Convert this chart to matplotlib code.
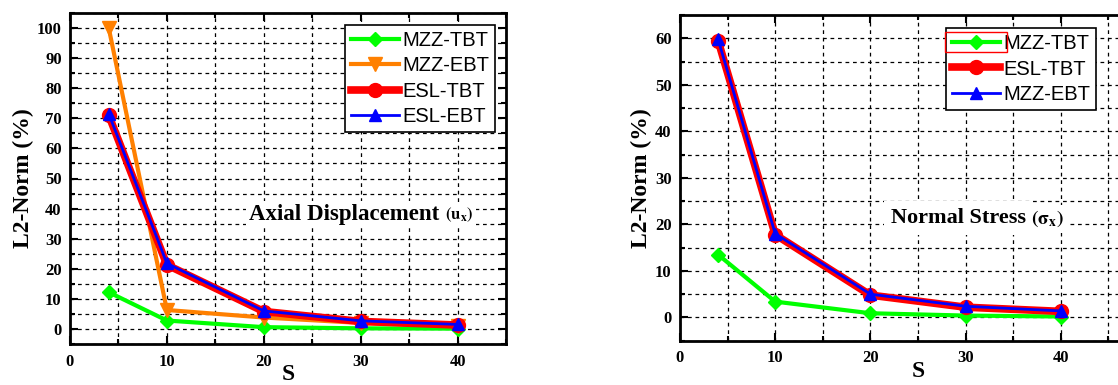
#импорт библиотек
import matplotlib
matplotlib.use("Agg")
import matplotlib.pyplot as plt
from matplotlib.ticker import MultipleLocator
from matplotlib.patches import Rectangle

plt.rcParams["mathtext.fontset"] = "stix"

#данные: отношение длины к толщине S
s_values = [4, 10, 20, 30, 40]
s_ticks = [0, 10, 20, 30, 40]

#левый график - осевое перемещение
ux_mzz_tbt = [12.2, 2.8, 0.6, 0.2, 0.1]
ux_mzz_ebt = [100.0, 6.3, 3.8, 2.0, 1.0]
ux_esl_tbt = [71.0, 21.3, 5.8, 2.5, 1.3]
ux_esl_ebt = [71.5, 21.8, 6.0, 2.7, 1.5]

#правый график - нормальное напряжение
sx_mzz_tbt = [13.5, 3.4, 0.9, 0.4, 0.2]
sx_esl_tbt = [59.5, 17.8, 4.8, 2.2, 1.3]
sx_mzz_ebt = [59.8, 18.0, 5.0, 2.4, 1.4]

left_labels = ["MZZ-TBT", "MZZ-EBT", "ESL-TBT", "ESL-EBT"]
right_labels = ["MZZ-TBT", "ESL-TBT", "MZZ-EBT"]

GREEN = "#00ff00"
ORANGE = "#ff8000"
RED = "#ff0000"
BLUE = "#0000ff"

SERIF = "Liberation Serif"
SANS = "Liberation Sans"


def style_axes(ax, ymin, ymax, xmax):
    #оси, сетка и деления
    ax.set_xlim(0, xmax)
    ax.set_ylim(ymin, ymax)
    ax.set_xticks(s_ticks)
    ax.xaxis.set_minor_locator(MultipleLocator(5))
    ax.yaxis.set_major_locator(MultipleLocator(10))
    ax.yaxis.set_minor_locator(MultipleLocator(5))
    ax.grid(True, which="both", color="black", linestyle=(0, (3, 3)), linewidth=0.9)
    ax.set_axisbelow(True)
    ax.tick_params(which="both", direction="in", top=True, right=True, width=1.5)
    ax.tick_params(which="major", length=6)
    ax.tick_params(which="minor", length=3.5)
    ax.tick_params(axis="x", which="major", pad=7)
    ax.tick_params(axis="y", which="major", pad=6)
    for sp in ax.spines.values():
        sp.set_linewidth(2)
    for lab in ax.get_xticklabels() + ax.get_yticklabels():
        lab.set_fontfamily(SERIF)
        lab.set_fontweight("bold")
        lab.set_fontsize(12)
    ax.set_ylabel("L2-Norm (%)", fontfamily=SERIF, fontweight="bold", fontsize=17, labelpad=2)
    ax.set_xlabel("S", fontfamily=SERIF, fontweight="bold", fontsize=17, labelpad=-4)


def make_legend(ax, anchor):
    leg = ax.legend(loc="upper right", bbox_to_anchor=anchor, fancybox=False,
                    edgecolor="black", framealpha=1, borderpad=0.3,
                    labelspacing=0.32, handlelength=2.4, handletextpad=0.15,
                    borderaxespad=0, prop={"family": SANS, "size": 14.5})
    leg.get_frame().set_linewidth(1.2)
    return leg


fig = plt.figure(figsize=(11.18, 3.85), dpi=100)

#левый график
ax1 = fig.add_axes([70 / 1118, 1 - 344 / 385, 436 / 1118, 331 / 385])
ax1.plot(s_values, ux_mzz_tbt, color=GREEN, lw=3, marker="D", ms=7, label=left_labels[0])
ax1.plot(s_values, ux_mzz_ebt, color=ORANGE, lw=3, marker="v", ms=10, label=left_labels[1])
ax1.plot(s_values, ux_esl_tbt, color=RED, lw=5.5, marker="o", ms=10, label=left_labels[2])
ax1.plot(s_values, ux_esl_ebt, color=BLUE, lw=2, marker="^", ms=9, label=left_labels[3])
style_axes(ax1, -5, 105, 45)
make_legend(ax1, (0.975, 0.964))
t1 = ax1.text(18.5, 38.2, "Axial Displacement", fontfamily=SERIF, fontweight="bold",
              fontsize=16.5, ha="left", va="center", zorder=5,
              bbox=dict(facecolor="white", edgecolor="none", pad=2))
ax1.annotate(r"$\mathbf{(u_x)}$", xy=(1, 0.45), xycoords=t1, xytext=(4, 0),
             textcoords="offset points", fontsize=12, va="center", zorder=5,
             bbox=dict(facecolor="white", edgecolor="none", pad=2))

#правый график
ax2 = fig.add_axes([680 / 1118, 1 - 340.7 / 385, 476 / 1118, 325.7 / 385])
ax2.plot(s_values, sx_mzz_tbt, color=GREEN, lw=3, marker="D", ms=7, label=right_labels[0])
ax2.plot(s_values, sx_esl_tbt, color=RED, lw=5.5, marker="o", ms=10, label=right_labels[1])
ax2.plot(s_values, sx_mzz_ebt, color=BLUE, lw=2, marker="^", ms=9, label=right_labels[2])
style_axes(ax2, -5, 65, 50)
leg2 = make_legend(ax2, ((1096 - 680) / 476, 0.960))
t2 = ax2.text(22.2, 21.4, "Normal Stress", fontfamily=SERIF, fontweight="bold",
              fontsize=16, ha="left", va="center", zorder=5,
              bbox=dict(facecolor="white", edgecolor="none", pad=5))
ax2.annotate(r"$\mathbf{(\sigma_x)}$", xy=(1, 0.45), xycoords=t2, xytext=(3, 0),
             textcoords="offset points", fontsize=14, va="center", zorder=5,
             bbox=dict(facecolor="white", edgecolor="none", pad=3))

#красная рамка вокруг первого элемента легенды справа
fig.canvas.draw()
hb = leg2.legend_handles[0].get_window_extent(fig.canvas.get_renderer())
fig.patches.append(Rectangle(((hb.x0 - 2) / fig.bbox.width, (hb.y0 - 5) / fig.bbox.height),
                             (hb.width + 4) / fig.bbox.width, (hb.height + 10) / fig.bbox.height,
                             transform=fig.transFigure, fill=False, edgecolor=RED, lw=1,
                             zorder=10))

fig.savefig("out.png", dpi=100)
